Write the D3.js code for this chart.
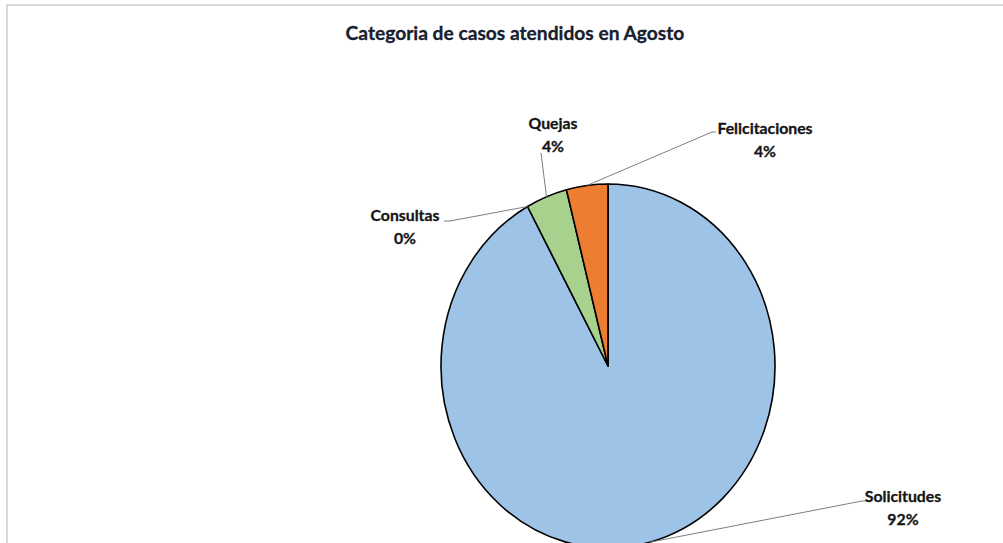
<!DOCTYPE html>
<html>
<head>
<meta charset="utf-8">
<script src="https://cdn.jsdelivr.net/npm/d3@7"></script>
<style>
  body { margin: 0; background: #fff; }
  svg { display: block; }
</style>
</head>
<body>
<div id="wrapper"></div>
<script>
// Datos del gráfico
const categories = ["Solicitudes", "Consultas", "Quejas", "Felicitaciones"];
const values = [92, 0, 4, 4];
const colors = ["#9dc3e6", "#9dc3e6", "#a9d18e", "#ed7d31"];
const title = "Categoria de casos atendidos en Agosto";

// Posición de las etiquetas (codo de la línea guía, desplazamiento del texto)
const labelLayout = {
  "Solicitudes":    { elbow: [862, 501], tail: 3,  text: [903, 497] },
  "Consultas":      { elbow: [450, 221], tail: -6, text: [405, 216] },
  "Quejas":         { elbow: [541, 153], tail: 0,  text: [553, 124] },
  "Felicitaciones": { elbow: [712, 132], tail: 4,  text: [765, 129] }
};

function draw() {
  const dimensions = { width: 1003, height: 543 };
  const pie = { cx: 608, cy: 366, rx: 167, ry: 182 };

  const svg = d3.select("#wrapper")
    .append("svg")
    .attr("width", dimensions.width)
    .attr("height", dimensions.height);

  // Borde del área del gráfico
  svg.append("rect")
    .attr("x", 7)
    .attr("y", 5)
    .attr("width", 1000)
    .attr("height", 560)
    .attr("fill", "#fff")
    .attr("stroke", "#d9d9d9")
    .attr("stroke-width", 2);

  svg.append("text")
    .attr("x", 515)
    .attr("y", 40)
    .attr("text-anchor", "middle")
    .attr("font-family", "Lato, 'Open Sans', sans-serif")
    .attr("font-weight", "bold")
    .attr("font-size", 19.2)
    .attr("fill", "#17202e")
    .attr("stroke", "#17202e")
    .attr("stroke-width", 0.3)
    .text(title);

  const data = categories.map((d, i) => ({ name: d, value: values[i], color: colors[i] }));
  const total = d3.sum(values);

  const arcs = d3.pie()
    .sort(null)
    .value(d => d.value)(data);

  const arc = d3.arc().innerRadius(0).outerRadius(pie.rx);

  const g = svg.append("g")
    .attr("transform", `translate(${pie.cx},${pie.cy}) scale(1,${pie.ry / pie.rx})`);

  g.selectAll("path")
    .data(arcs.filter(d => d.value > 0))
    .enter()
    .append("path")
    .attr("d", arc)
    .attr("fill", d => d.data.color)
    .attr("stroke", "#000")
    .attr("stroke-width", 1.6)
    .attr("vector-effect", "non-scaling-stroke")
    .attr("stroke-linejoin", "round");

  // Líneas guía
  const edgePoint = d => {
    const a = (d.startAngle + d.endAngle) / 2;
    return [pie.cx + pie.rx * Math.sin(a), pie.cy - pie.ry * Math.cos(a)];
  };
  const line = d3.line();

  svg.append("g")
    .selectAll("path")
    .data(arcs)
    .enter()
    .append("path")
    .attr("d", d => {
      const l = labelLayout[d.data.name];
      const p0 = edgePoint(d);
      return line([p0, l.elbow, [l.elbow[0] + l.tail, l.elbow[1]]]);
    })
    .attr("fill", "none")
    .attr("stroke", "#7f7f7f")
    .attr("stroke-width", 1);

  const labels = svg.append("g")
    .selectAll("text")
    .data(arcs)
    .enter()
    .append("text")
    .attr("text-anchor", "middle")
    .attr("font-family", "Lato, 'Open Sans', sans-serif")
    .attr("font-weight", "bold")
    .attr("font-size", 15.8)
    .attr("fill", "#141414")
    .attr("stroke", "#141414")
    .attr("stroke-width", 0.3);

  labels.append("tspan")
    .attr("x", d => labelLayout[d.data.name].text[0])
    .attr("y", d => labelLayout[d.data.name].text[1] + 5)
    .text(d => d.data.name);

  labels.append("tspan")
    .attr("x", d => labelLayout[d.data.name].text[0])
    .attr("y", d => labelLayout[d.data.name].text[1] + 28)
    .text(d => d3.format(".0%")(d.value / total));
}
draw();
</script>
</body>
</html>
